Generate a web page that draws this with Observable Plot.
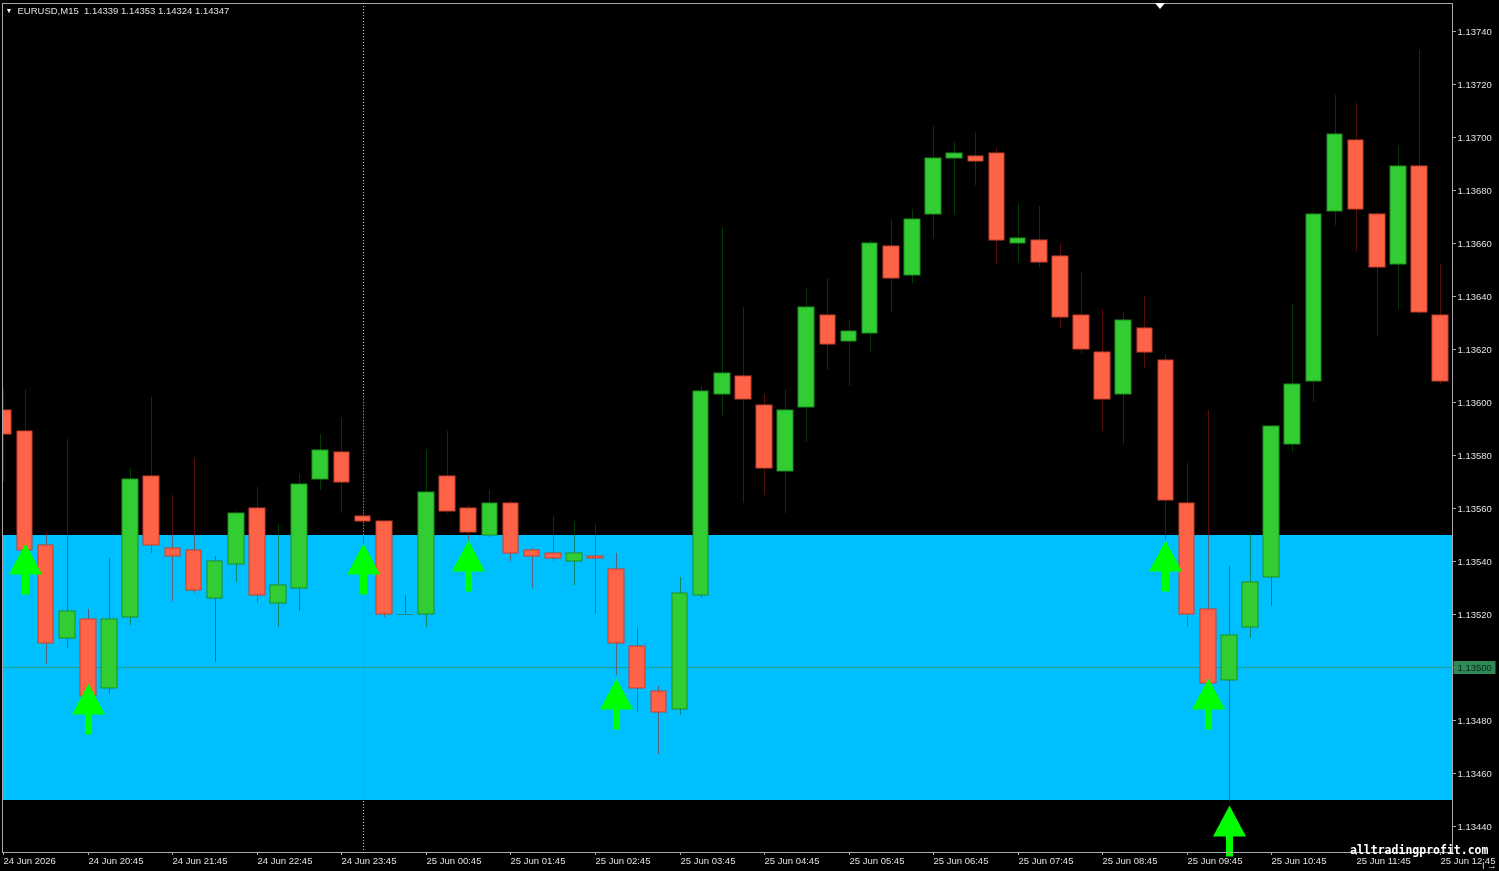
<!DOCTYPE html>
<html><head><meta charset="utf-8">
<script src="https://cdn.jsdelivr.net/npm/d3@7"></script>
<script src="https://cdn.jsdelivr.net/npm/@observablehq/plot@0.6"></script>
<style>
html,body{margin:0;padding:0;background:#000;overflow:hidden}
#chart{position:relative;width:1499px;height:871px}
#chart svg{display:block}
#wm{position:absolute;left:1350px;top:843px;font:bold 11.5px "DejaVu Sans Mono",monospace;color:#fff;white-space:nowrap}
#shift{position:absolute;left:1155px;top:3px;width:0;height:0;border-left:5px solid transparent;border-right:5px solid transparent;border-top:6px solid #fff}
</style>
</head><body><div id="chart"></div>
<script>
// ---- data ----
const symbolName = "EURUSD,M15";
const headerOHLC = [1.14339, 1.14353, 1.14324, 1.14347];
const open  = [1.13597,1.13589,1.13546,1.13511,1.13518,1.13492,1.13519,1.13572,1.13545,1.13544,1.13526,1.13539,1.13560,1.13524,1.13530,1.13571,1.13581,1.13557,1.13555,1.13520,1.13520,1.13572,1.13560,1.13550,1.13562,1.13544,1.13543,1.13540,1.13542,1.13537,1.13508,1.13491,1.13484,1.13527,1.13603,1.13610,1.13599,1.13574,1.13598,1.13633,1.13623,1.13626,1.13659,1.13648,1.13671,1.13692,1.13693,1.13694,1.13660,1.13661,1.13655,1.13633,1.13619,1.13603,1.13628,1.13616,1.13562,1.13522,1.13495,1.13515,1.13534,1.13584,1.13608,1.13672,1.13699,1.13671,1.13652,1.13689,1.13633];
const high  = [1.13605,1.13605,1.13551,1.13586,1.13522,1.13541,1.13575,1.13602,1.13565,1.13579,1.13542,1.13559,1.13568,1.13554,1.13573,1.13588,1.13594,1.13603,1.13555,1.13527,1.13582,1.13589,1.13561,1.13567,1.13563,1.13545,1.13557,1.13555,1.13554,1.13543,1.13515,1.13493,1.13534,1.13606,1.13666,1.13636,1.13603,1.13605,1.13643,1.13647,1.13631,1.13661,1.13669,1.13673,1.13704,1.13698,1.13702,1.13696,1.13675,1.13674,1.13660,1.13649,1.13635,1.13634,1.13640,1.13618,1.13577,1.13597,1.13538,1.13551,1.13591,1.13637,1.13672,1.13716,1.13713,1.13672,1.13697,1.13733,1.13652];
const low   = [1.13570,1.13543,1.13501,1.13507,1.13488,1.13490,1.13516,1.13543,1.13525,1.13528,1.13502,1.13532,1.13524,1.13515,1.13521,1.13567,1.13558,1.13545,1.13519,1.13520,1.13515,1.13558,1.13548,1.13549,1.13540,1.13530,1.13540,1.13531,1.13520,1.13497,1.13483,1.13467,1.13482,1.13526,1.13595,1.13562,1.13565,1.13558,1.13585,1.13612,1.13606,1.13619,1.13634,1.13645,1.13662,1.13671,1.13682,1.13652,1.13653,1.13651,1.13628,1.13618,1.13589,1.13584,1.13613,1.13548,1.13515,1.13492,1.13449,1.13511,1.13523,1.13581,1.13600,1.13667,1.13657,1.13625,1.13635,1.13633,1.13607];
const close = [1.13588,1.13544,1.13509,1.13521,1.13489,1.13518,1.13571,1.13546,1.13542,1.13529,1.13540,1.13558,1.13527,1.13531,1.13569,1.13582,1.13570,1.13555,1.13520,1.13520,1.13566,1.13559,1.13551,1.13562,1.13543,1.13542,1.13541,1.13543,1.13541,1.13509,1.13492,1.13483,1.13528,1.13604,1.13611,1.13601,1.13575,1.13597,1.13636,1.13622,1.13627,1.13660,1.13647,1.13669,1.13692,1.13694,1.13691,1.13661,1.13662,1.13653,1.13632,1.13620,1.13601,1.13631,1.13619,1.13563,1.13520,1.13494,1.13512,1.13532,1.13591,1.13607,1.13671,1.13701,1.13673,1.13651,1.13689,1.13634,1.13608];
const arrowBars   = [1, 4, 17, 22, 29, 55, 57, 58];
const arrowPrices = [1.13547, 1.13494, 1.13547, 1.13548, 1.13496, 1.13548, 1.13496, 1.13448];
const zone = [1.13450, 1.13550];
const hLevel = 1.13500;
const daySeparator = 17;
const barsPerLabel = 4;
const timeLabels = ["24 Jun 2026","24 Jun 20:45","24 Jun 21:45","24 Jun 22:45","24 Jun 23:45","25 Jun 00:45","25 Jun 01:45","25 Jun 02:45","25 Jun 03:45","25 Jun 04:45","25 Jun 05:45","25 Jun 06:45","25 Jun 07:45","25 Jun 08:45","25 Jun 09:45","25 Jun 10:45","25 Jun 11:45","25 Jun 12:45"];
const priceTicks = [1.13440,1.13460,1.13480,1.13500,1.13520,1.13540,1.13560,1.13580,1.13600,1.13620,1.13640,1.13660,1.13680,1.13700,1.13720,1.13740];

// ---- build ----
const candles = open.map((o, i) => ({i, o, h: high[i], l: low[i], c: close[i]}));
const bull = candles.filter(d => d.c > d.o);
const bear = candles.filter(d => d.c < d.o);
const doji = candles.filter(d => d.c === d.o);
const arrows = arrowBars.map((i, k) => ({i, p: arrowPrices[k]}));
const tickIdx = timeLabels.map((_, k) => k * barsPerLabel);
const fmt = d3.format(".5f");
const half = 0.37;

const arrowSymbol = {draw(ctx) {
  ctx.moveTo(0, 0); ctx.lineTo(16.5, 31); ctx.lineTo(3.5, 31); ctx.lineTo(3.5, 51);
  ctx.lineTo(-3.5, 51); ctx.lineTo(-3.5, 31); ctx.lineTo(-16.5, 31); ctx.closePath();
}};
const boxSymbol = {draw(ctx) {
  ctx.moveTo(1, -6.5); ctx.lineTo(43, -6.5); ctx.lineTo(43, 6.5); ctx.lineTo(1, 6.5); ctx.closePath();
}};

const chart = Plot.plot({
  width: 1499, height: 871,
  marginLeft: 2, marginRight: 47, marginTop: 3, marginBottom: 19,
  style: {background: "#000", color: "#e0e0e0", fontFamily: "Liberation Sans, Arial, sans-serif", fontSize: "9.5px"},
  x: {domain: [-0.065, 68.56], round: true, axis: null},
  y: {domain: [1.134302, 1.137506], round: true, axis: null},
  marks: [
    Plot.rect([{lo: zone[0], hi: zone[1]}], {y1: "lo", y2: "hi", fill: "#00bfff"}),
    Plot.ruleY([hLevel], {stroke: "#2e8b57", strokeOpacity: 0.65}),
    Plot.ruleX([daySeparator], {stroke: "#ffffff", strokeOpacity: 0.8, strokeDasharray: "1,2", mixBlendMode: "difference"}),
    Plot.ruleX(bull.concat(doji), {x: "i", y1: "l", y2: "h", stroke: "#006400", strokeOpacity: 0.6, clip: true}),
    Plot.ruleX(bear, {x: "i", y1: "l", y2: "h", stroke: "#a01818", strokeOpacity: 0.55, clip: true}),
    Plot.rect(bull, {x1: d => d.i - half, x2: d => d.i + half, y1: "o", y2: "c", fill: "#32cd32", stroke: "#1f8f1f", clip: true}),
    Plot.rect(bear, {x1: d => d.i - half, x2: d => d.i + half, y1: "o", y2: "c", fill: "#ff6347", stroke: "#c8402c", clip: true}),
    Plot.ruleY(doji, {y: "o", x1: d => d.i - half, x2: d => d.i + half, stroke: "#1f8f8f"}),
    Plot.dot(arrows, {x: "i", y: "p", symbol: arrowSymbol, fill: "#00ff00", stroke: null}),
    Plot.frame({stroke: "#a8a8a8"}),
    Plot.axisY({anchor: "right", ticks: priceTicks, tickFormat: fmt, tickSize: 3, tickPadding: 2, stroke: "#a8a8a8"}),
    Plot.axisX({ticks: tickIdx, tickFormat: d => timeLabels[d / barsPerLabel], textAnchor: "start", tickSize: 3, tickPadding: 2, stroke: "#a8a8a8"}),
    Plot.dot([hLevel], {y: d => d, frameAnchor: "right", symbol: boxSymbol, fill: "#2e8b57", stroke: null}),
    Plot.text([hLevel], {y: d => d, frameAnchor: "right", text: d => fmt(d), dx: 5, textAnchor: "start", fill: "#0f2412"}),
    Plot.text(["\u25BC"], {frameAnchor: "top-left", text: d => d, dx: 3, dy: 7, fontSize: 7, textAnchor: "start", lineAnchor: "middle", fill: "#ffffff"}),
    Plot.text([symbolName + "\u00a0\u00a0" + headerOHLC.map(fmt).join(" ")], {frameAnchor: "top-left", text: d => d, dx: 15, dy: 7, textAnchor: "start", lineAnchor: "middle", fill: "#e0e0e0"})
  ]
});
const el = document.getElementById("chart");
el.appendChild(chart);
const wm = document.createElement("div"); wm.id = "wm"; wm.textContent = "alltradingprofit.com"; el.appendChild(wm);
const sh = document.createElement("div"); sh.id = "shift"; el.appendChild(sh);
</script>
</body></html>
